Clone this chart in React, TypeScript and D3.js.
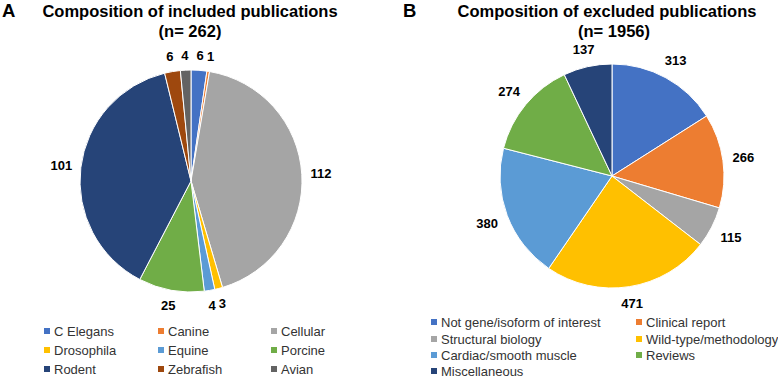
import React from 'react';
import * as d3 from 'd3';

const includedCategories = ['C Elegans', 'Canine', 'Cellular', 'Drosophila', 'Equine', 'Porcine', 'Rodent', 'Zebrafish', 'Avian'];
const includedValues = [6, 1, 112, 3, 4, 25, 101, 6, 4];
const excludedCategories = ['Not gene/isoform of interest', 'Clinical report', 'Structural biology', 'Wild-type/methodology', 'Cardiac/smooth muscle', 'Reviews', 'Miscellaneous'];
const excludedValues = [313, 266, 115, 471, 380, 274, 137];
const palette = ['#4472C4', '#ED7D31', '#A5A5A5', '#FFC000', '#5B9BD5', '#70AD47', '#264478', '#9E480E', '#636363'];

const FONT = '"Liberation Sans", Arial, sans-serif';

type PieProps = { cx: number; cy: number; r: number; values: number[]; gap: number };

function Pie({ cx, cy, r, values, gap }: PieProps) {
  const arcs = d3.pie<number>().sort(null).value((d) => d)(values);
  const arc = d3.arc<d3.PieArcDatum<number>>().innerRadius(0).outerRadius(r);
  const fs = 13;
  return (
    <g transform={`translate(${cx},${cy})`}>
      {arcs.map((a, i) => (
        <path key={i} d={arc(a) || ''} fill={palette[i]} stroke="#fff" strokeWidth={1} />
      ))}
      {arcs.map((a, i) => {
        const mid = (a.startAngle + a.endAngle) / 2;
        const ux = Math.sin(mid);
        const uy = -Math.cos(mid);
        const txt = String(a.data);
        const hw = (txt.length * 0.556 * fs) / 2;
        const hh = 6.5;
        const d = r + gap + Math.abs(ux) * hw + Math.abs(uy) * hh;
        return (
          <text key={'t' + i} x={ux * d} y={uy * d} textAnchor="middle" dy="0.36em"
            fontFamily={FONT} fontWeight="bold" fontSize={fs} fill="#000">{txt}</text>
        );
      })}
    </g>
  );
}

type LegendProps = { items: string[]; colX: number[]; rowY: number[]; textOff: number };

function Legend({ items, colX, rowY, textOff }: LegendProps) {
  const nc = colX.length;
  return (
    <g>
      {items.map((name, i) => {
        const x = colX[i % nc];
        const y = rowY[Math.floor(i / nc)];
        return (
          <g key={name}>
            <rect x={x} y={y - 3} width={6} height={6} fill={palette[i]} />
            <text x={x + textOff} y={y} dy="0.36em" fontFamily={FONT} fontSize={13} fill="#333">{name}</text>
          </g>
        );
      })}
    </g>
  );
}

export default function App() {
  return (
    <svg width={778} height={378} style={{ position: 'absolute', left: 0, top: 0, background: '#fff' }}>
      <rect width={778} height={378} fill="#fff" />
      <text x={2} y={17} fontFamily={FONT} fontWeight="bold" fontSize={18.5}>A</text>
      <text x={190} y={17} textAnchor="middle" fontFamily={FONT} fontWeight="bold" fontSize={16.5}>Composition of included publications</text>
      <text x={190} y={37} textAnchor="middle" fontFamily={FONT} fontWeight="bold" fontSize={16.5}>(n= 262)</text>
      <text x={403} y={17} fontFamily={FONT} fontWeight="bold" fontSize={18.5}>B</text>
      <text x={607} y={17} textAnchor="middle" fontFamily={FONT} fontWeight="bold" fontSize={16.5}>Composition of excluded publications</text>
      <text x={614} y={37} textAnchor="middle" fontFamily={FONT} fontWeight="bold" fontSize={16.5}>(n= 1956)</text>
      <Pie cx={191} cy={181} r={111} values={includedValues} gap={8} />
      <Pie cx={612} cy={176} r={112} values={excludedValues} gap={9} />
      <Legend items={includedCategories} colX={[44, 158, 271]} rowY={[331, 350, 369]} textOff={10} />
      <Legend items={excludedCategories} colX={[431, 636]} rowY={[322, 339, 355, 371]} textOff={10} />
    </svg>
  );
}
